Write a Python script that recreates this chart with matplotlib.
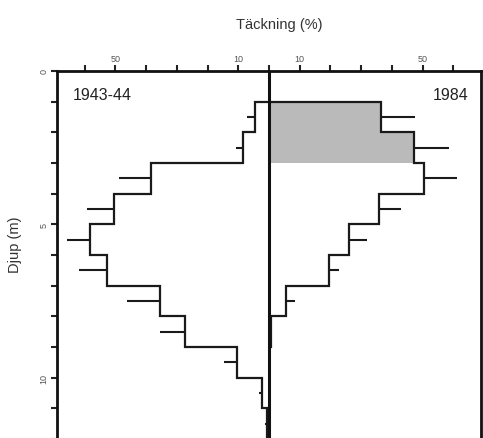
import matplotlib
matplotlib.use("Agg")
import matplotlib.pyplot as plt
import numpy as np

plt.rcParams['font.family'] = ['Liberation Sans', 'DejaVu Sans']

# Depth interval edges (m)
edges_1943 = [1, 2, 3, 4, 5, 6, 7, 8, 9, 10, 11, 12]
cover_1943 = [4.4, 8.4, 38.5, 50.5, 58.3, 52.8, 35.5, 27.4, 10.3, 2.2, 0.8]
upper_1943 = [7.1, 10.6, 48.8, 59.1, 65.6, 61.8, 46.1, 35.5, 14.7, 3.3, 1.2]

edges_1984 = [1, 2, 3, 4, 5, 6, 7, 8, 9]
cover_1984 = [36.3, 47.1, 50.6, 35.7, 26.0, 19.5, 5.6, 0.5]
upper_1984 = [47.6, 58.5, 61.2, 42.8, 31.9, 22.7, 8.4, 0.5]

shade_top, shade_bottom = 1, 3

xticks = [-60, -50, -40, -30, -20, -10, 0, 10, 20, 30, 40, 50, 60]
xlabels = ["", "50", "", "", "", "10", "", "10", "", "", "", "50", ""]
yticks = list(range(0, 13))
ylabels = ["0", "", "", "", "", "5", "", "", "", "", "10", "", ""]

fig = plt.figure(figsize=(4.83, 4.39), dpi=100)
W, H = 483, 439
ax = fig.add_axes([57 / W, 1 - 440 / H, (481 - 57) / W, (440 - 72) / H])

ax.set_xlim(-69, 69)
ax.set_ylim(12, 0)

# shaded part of 1984 profile
e84 = np.array(edges_1984)
c84 = np.array(cover_1984)
mask = (e84[:-1] >= shade_top) & (e84[:-1] < shade_bottom)
for top, val in zip(e84[:-1][mask], c84[mask]):
    ax.fill_betweenx([top, top + 1], 0, val, color="#bababa", lw=0)

# profiles
ax.stairs(-np.array(cover_1943), edges_1943, orientation="horizontal",
          baseline=0, color="#1a1a1a", lw=1.6)
ax.stairs(c84, edges_1984, orientation="horizontal",
          baseline=0, color="#1a1a1a", lw=1.6)

# one-sided error bars at interval midpoints
e43 = np.array(edges_1943)
mid43 = (e43[:-1] + e43[1:]) / 2
ax.hlines(mid43, -np.array(cover_1943), -np.array(upper_1943), color="#1a1a1a", lw=1.5)
mid84 = (e84[:-1] + e84[1:]) / 2
ax.hlines(mid84, c84, np.array(upper_1984), color="#1a1a1a", lw=1.5)

# centre line
ax.axvline(0, color="#111111", lw=2.2)

ax.xaxis.tick_top()
ax.set_xticks(xticks)
ax.set_xticklabels(xlabels)
ax.set_yticks(yticks)
ax.set_yticklabels(ylabels, rotation=90, va="center")
ax.tick_params(axis="both", direction="out", length=4, width=1.5,
               labelsize=6.5, colors="#222222", pad=2)
ax.tick_params(axis="x", labelcolor="#555555")
ax.tick_params(axis="y", labelcolor="#555555")
for s in ax.spines.values():
    s.set_linewidth(2)
    s.set_color("#111111")
ax.spines["bottom"].set_color("#cccccc")
ax.spines["bottom"].set_linewidth(1)

ax.text(0.036, 0.935, "1943-44", transform=ax.transAxes, fontsize=11.5,
        color="#222222", ha="left", va="center")
ax.text(0.97, 0.935, "1984", transform=ax.transAxes, fontsize=11.5,
        color="#222222", ha="right", va="center")

fig.text(279 / W, 1 - 25 / H, "Täckning (%)", fontsize=10.5, color="#333333",
         ha="center", va="center")
fig.text(15 / W, 1 - 245 / H, "Djup (m)", fontsize=10.5, color="#333333",
         ha="center", va="center", rotation=90)

fig.savefig("out.png", dpi=100)
